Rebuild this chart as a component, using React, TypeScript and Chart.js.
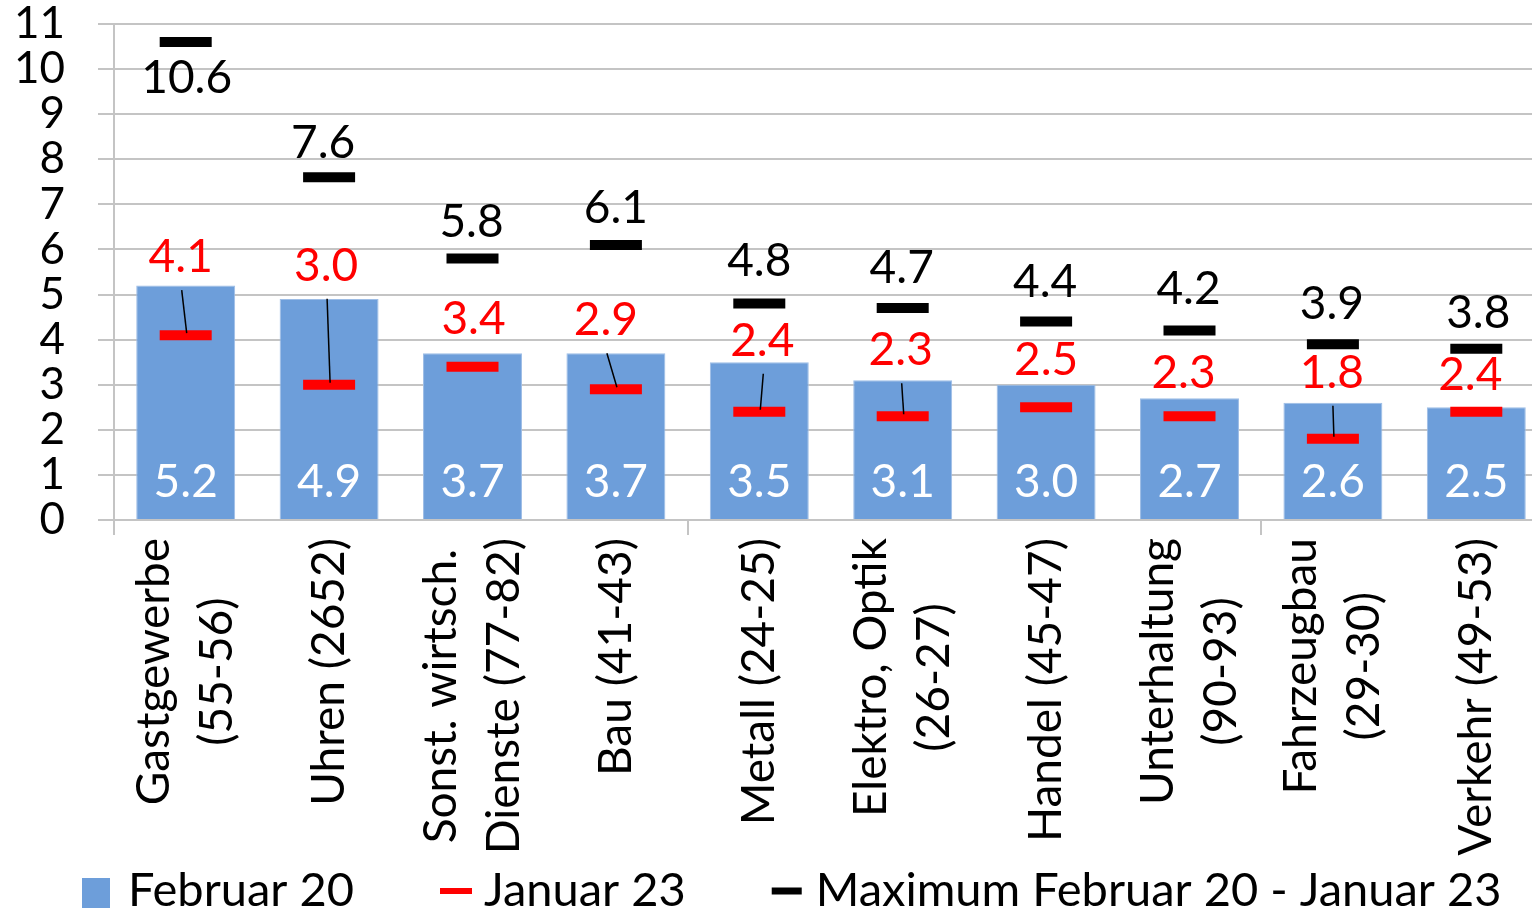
import React, { useEffect, useRef } from 'react';
import { Chart, registerables } from 'chart.js';

Chart.register(...registerables);

// ---------- data ----------
const categories: string[][] = [
  ['Gastgewerbe', '(55-56)'],
  ['Uhren (2652)'],
  ['Sonst. wirtsch.', 'Dienste (77-82)'],
  ['Bau (41-43)'],
  ['Metall (24-25)'],
  ['Elektro, Optik', '(26-27)'],
  ['Handel (45-47)'],
  ['Unterhaltung', '(90-93)'],
  ['Fahrzeugbau', '(29-30)'],
  ['Verkehr (49-53)'],
];
const februar20 = [5.2, 4.9, 3.7, 3.7, 3.5, 3.1, 3.0, 2.7, 2.6, 2.5];
const januar23 = [4.1, 3.0, 3.4, 2.9, 2.4, 2.3, 2.5, 2.3, 1.8, 2.4];
const maximum = [10.6, 7.6, 5.8, 6.1, 4.8, 4.7, 4.4, 4.2, 3.9, 3.8];
const seriesNames = ['Februar 20', 'Januar 23', 'Maximum Februar 20 - Januar 23'];
const yMin = 0;
const yMax = 11;
const yStep = 1;

// ---------- label layout (pixel offsets of value labels from their marker) ----------
const maxLabelOffsets: number[][] = [
  [1, 36], [-6, -34], [-1, -36], [0, -37], [0, -42], [-1, -40], [-1, -39], [-1, -41], [-1, -40], [2, -35],
];
const janLabelOffsets: number[][] = [
  [-5, -78], [-3, -119], [1, -48], [-10, -69], [3, -71], [-2, -66], [0, -47], [-6, -43], [-1, -66], [-6, -37],
];
const janLeader = [true, true, false, true, true, true, false, false, true, false];

// ---------- styles ----------
const BLUE = '#6D9EDA';
const RED = '#FF0000';
const BLACK = '#000000';
const GRID = '#c4c4c4';
const FONT = 'Lato, "Open Sans", sans-serif';

const fmt = (v: number) => v.toFixed(1);

const labelPlugin = {
  id: 'valueAndCategoryLabels',
  afterDatasetsDraw(chart: any) {
    const ctx: CanvasRenderingContext2D = chart.ctx;
    const ys = chart.scales.y;
    const xs = chart.scales.x;
    ctx.save();
    ctx.textAlign = 'center';
    ctx.textBaseline = 'middle';
    ctx.font = `46px ${FONT}`;

    // bar labels (white, near the base)
    const barMeta = chart.getDatasetMeta(0);
    barMeta.data.forEach((el: any, i: number) => {
      ctx.fillStyle = '#ffffff';
      ctx.fillText(fmt(februar20[i]), el.x, ys.getPixelForValue(0) - 38);
    });

    // Januar 23 labels (red) with leader lines
    const janMeta = chart.getDatasetMeta(1);
    janMeta.data.forEach((el: any, i: number) => {
      const [dx, dy] = janLabelOffsets[i];
      const lx = el.x + dx;
      const ly = el.y + dy;
      if (janLeader[i]) {
        ctx.strokeStyle = '#000';
        ctx.lineWidth = 1.5;
        ctx.beginPath();
        ctx.moveTo(lx + 1, ly + 33);
        ctx.lineTo(el.x + 1, el.y - 2);
        ctx.stroke();
      }
      ctx.fillStyle = RED;
      ctx.fillText(fmt(januar23[i]), lx, ly);
    });

    // Maximum labels (black)
    const maxMeta = chart.getDatasetMeta(2);
    maxMeta.data.forEach((el: any, i: number) => {
      const [dx, dy] = maxLabelOffsets[i];
      ctx.fillStyle = BLACK;
      ctx.fillText(fmt(maximum[i]), el.x + dx, el.y + dy);
    });

    // category labels, rotated, lines centred on each other
    ctx.font = `46px ${FONT}`;
    ctx.fillStyle = '#000';
    categories.forEach((lines, i) => {
      const cx = xs.getPixelForValue(i);
      const widths = lines.map((l) => ctx.measureText(l).width);
      const maxW = Math.max(...widths);
      const cy = xs.top + 18 + maxW / 2;
      const n = lines.length;
      lines.forEach((l, j) => {
        const lx = cx + (j - (n - 1) / 2) * 63;
        ctx.save();
        ctx.translate(lx, cy);
        ctx.rotate(-Math.PI / 2);
        ctx.fillText(l, 0, 0);
        ctx.restore();
      });
    });
    ctx.restore();
  },
};

// legend drawn below the category labels
const legendPlugin = {
  id: 'bottomLegend',
  afterDraw(chart: any) {
    const ctx: CanvasRenderingContext2D = chart.ctx;
    const area = chart.chartArea;
    ctx.save();
    ctx.font = `47px ${FONT}`;
    ctx.textAlign = 'left';
    ctx.textBaseline = 'middle';
    const cy = chart.height - 20;
    let x = area.left - 32;
    const swatch = [
      { w: 28, h: 30, c: BLUE },
      { w: 32, h: 6, c: RED },
      { w: 30, h: 7, c: BLACK },
    ];
    const textGap = [18, 12, 14];
    seriesNames.forEach((name, i) => {
      const s = swatch[i];
      ctx.fillStyle = s.c;
      ctx.fillRect(x, cy - s.h / 2 + (i === 0 ? 2 : 0), s.w, s.h);
      x += s.w + textGap[i];
      ctx.fillStyle = '#000';
      ctx.fillText(name, x, cy);
      x += ctx.measureText(name).width + 86;
    });
    ctx.restore();
  },
};

export default function App() {
  const ref = useRef<HTMLCanvasElement | null>(null);

  useEffect(() => {
    if (!ref.current) return;
    const chart = new Chart(ref.current, {
      type: 'bar',
      data: {
        labels: categories.map((c) => c.join(' ')),
        datasets: [
          {
            type: 'bar',
            label: seriesNames[0],
            data: februar20,
            backgroundColor: BLUE,
            borderColor: '#9dbde6',
            borderWidth: 1,
            barPercentage: 0.69,
            categoryPercentage: 1,
            order: 10,
          },
          {
            type: 'line',
            label: seriesNames[1],
            data: januar23,
            showLine: false,
            pointStyle: 'line',
            pointRadius: 26,
            pointHoverRadius: 26,
            pointBorderWidth: 10,
            pointBorderColor: RED,
            borderColor: RED,
            backgroundColor: RED,
            order: 2,
          },
          {
            type: 'line',
            label: seriesNames[2],
            data: maximum,
            showLine: false,
            pointStyle: 'line',
            pointRadius: 26,
            pointHoverRadius: 26,
            pointBorderWidth: 10,
            pointBorderColor: BLACK,
            borderColor: BLACK,
            backgroundColor: BLACK,
            order: 1,
          },
        ] as any,
      },
      options: {
        responsive: false,
        animation: false,
        events: [],
        layout: { autoPadding: false, padding: { top: 24, left: 0, right: 4, bottom: 0 } },
        plugins: {
          tooltip: { enabled: false },
          legend: { display: false },
        },
        scales: {
          x: {
            offset: true,
            border: { display: true, color: GRID, width: 2 },
            grid: {
              offset: true,
              drawOnChartArea: false,
              drawTicks: true,
              tickLength: 15,
              lineWidth: 2,
              color: (c: any) => (c.index % 4 === 0 ? GRID : 'rgba(0,0,0,0)'),
            },
            ticks: { display: false },
            afterFit: (s: any) => {
              s.height = 391;
              s.paddingLeft = 0;
              s.paddingRight = 0;
            },
          },
          y: {
            min: yMin,
            max: yMax,
            border: { display: true, color: GRID, width: 2 },
            grid: {
              color: GRID,
              lineWidth: 2,
              drawTicks: true,
              tickLength: 16,
            },
            ticks: {
              stepSize: yStep,
              autoSkip: false,
              padding: 33,
              color: '#000',
              font: { family: FONT, size: 44, lineHeight: 1 },
            },
            afterFit: (s: any) => {
              s.width = 114;
              s.paddingTop = 0;
              s.paddingBottom = 0;
            },
          },
        },
      },
      plugins: [labelPlugin, legendPlugin],
    });
    return () => chart.destroy();
  }, []);

  return (
    <div
      style={{
        position: 'fixed',
        left: 0,
        top: 0,
        width: 1532,
        height: 911,
        overflow: 'hidden',
        background: '#fff',
      }}
    >
      <canvas ref={ref} width={1552} height={911} style={{ display: 'block' }} />
    </div>
  );
}
